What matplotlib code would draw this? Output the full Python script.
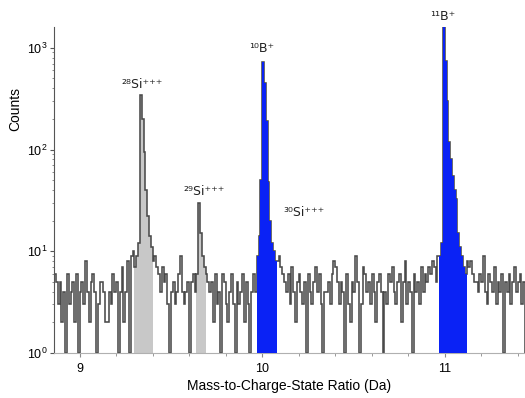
import numpy as np
import matplotlib
matplotlib.use("Agg")
import matplotlib.pyplot as plt
from matplotlib.ticker import MultipleLocator, LogLocator, NullFormatter

plt.rcParams['font.family'] = ['Liberation Sans', 'DejaVu Sans']

# Histogram data: bin width 0.01 Da starting at 8.86 Da
bin_start = 8.86
bin_width = 0.01

noise_a = [6, 5, 3, 5, 2, 4, 1, 6, 3, 4, 5, 2, 6, 1, 4, 5, 3, 8, 4, 2,
           5, 6, 4, 1, 3, 5, 5, 4, 2, 2, 4, 3, 6, 4, 5, 1, 4, 7, 2, 4,
           8, 1, 9, 10]                                                   # 8.86-9.30
si28 = [7, 9, 12, 345, 200, 95, 40, 22, 14, 11]                           # 9.30-9.40
noise_b = [8, 9, 7, 6, 4, 7, 5, 6, 3, 1, 4, 5, 3, 4, 6, 9, 4, 3, 4, 5,
           1, 5, 6, 4]                                                    # 9.40-9.64
si29 = [6, 30, 15, 9, 7]                                                  # 9.64-9.69
noise_c = [6, 5, 4, 5, 2, 6, 3, 4, 1, 6, 5, 3, 2, 4, 6, 3, 1, 5, 3, 4,
           6, 2, 5, 3, 1, 4, 6, 4]                                        # 9.69-9.97
b10 = [9, 14, 50, 725, 450, 190, 48, 20, 12, 10, 8]                       # 9.97-10.08
noise_d = [8, 9, 7, 6, 5, 4, 6, 3, 7, 4, 2, 5, 6, 4, 3, 5, 1, 6, 4, 3,
           5, 7, 4, 6, 3, 1, 4, 4, 5, 3, 6, 8, 7, 5, 3, 5, 4, 1, 6, 3,
           2, 5, 4, 9, 5, 1, 3, 7, 6, 4, 5, 3, 6, 4, 2, 5, 6, 4, 1, 4,
           3, 6, 5, 7, 4, 3, 5, 6, 2, 5, 8, 3, 5, 4, 1, 6, 4, 5, 3, 7,
           4, 6, 5, 7, 6, 8, 7, 5, 9]                                     # 10.08-10.97
b11 = [9, 12, 1600, 750, 300, 120, 80, 55, 40, 33, 15, 11, 9, 7, 6]       # 10.97-11.12
noise_e = [8, 7, 8, 6, 5, 5, 4, 6, 5, 9, 4, 3, 6, 5, 4, 7, 3, 5, 4, 6,
           1, 5, 4, 6, 3, 5, 7, 4, 5, 6, 3, 5]                            # 11.12-11.44

segments = [("n", noise_a), ("si", si28), ("n", noise_b), ("si", si29),
            ("n", noise_c), ("b", b10), ("n", noise_d), ("b", b11), ("n", noise_e)]

labels = ["²⁸Si⁺⁺⁺", "²⁹Si⁺⁺⁺", "³⁰Si⁺⁺⁺", "¹⁰B⁺", "¹¹B⁺"]
label_x = [9.345, 9.68, 10.23, 10.0, 10.99]
label_y = [440, 39, 24, 975, 2050]

counts = np.concatenate([np.array(s, dtype=float) for _, s in segments])
edges = bin_start + bin_width * np.arange(len(counts) + 1)

fig = plt.figure(figsize=(5.25, 3.98), dpi=100)
ax = fig.add_axes([0.103, 0.113, 0.897, 0.819])
ax.set_yscale('log')

i = 0
for kind, s in segments:
    n = len(s)
    if kind != "n":
        e = edges[i:i + n + 1]
        if kind == "si":
            ax.stairs(s, e, baseline=1, fill=True, color='#c8c8c8', lw=0, zorder=1)
        else:
            ax.stairs(s, e, baseline=1, fill=True, color='#0a22f5', lw=0, zorder=3)
    i += n

ax.stairs(counts, edges, baseline=1, color='#4a4a4a', lw=1.15, zorder=2)

for t, x, y in zip(labels, label_x, label_y):
    ax.text(x, y, t, ha='center', va='center', fontsize=9, color='#222222',
            clip_on=False, family=['DejaVu Sans'])

ax.set_xlim(8.86, 11.44)
ax.set_ylim(1, 1600)

ax.xaxis.set_major_locator(MultipleLocator(1))
ax.xaxis.set_minor_locator(MultipleLocator(0.2))
ax.yaxis.set_major_locator(LogLocator(base=10, numticks=10))
ax.yaxis.set_minor_locator(LogLocator(base=10, subs=np.arange(2, 10), numticks=20))
ax.yaxis.set_minor_formatter(NullFormatter())

for s in ['top', 'right']:
    ax.spines[s].set_visible(False)
ax.spines['bottom'].set_color('#b0b0b0')
ax.spines['left'].set_color('#555555')
ax.spines['left'].set_linewidth(0.8)

ax.tick_params(axis='x', which='major', length=3, color='#888888', labelsize=9, pad=4)
ax.tick_params(axis='x', which='minor', length=2, color='#888888')
ax.tick_params(axis='y', which='major', length=3, color='#555555', labelsize=9, pad=2)
ax.tick_params(axis='y', which='minor', length=1.5, color='#777777')

ax.set_xlabel("Mass-to-Charge-State Ratio (Da)", fontsize=10, labelpad=3)
ax.set_ylabel("Counts", fontsize=10)
ax.yaxis.set_label_coords(-0.068, 0.75)

fig.savefig("out.png", dpi=100)
